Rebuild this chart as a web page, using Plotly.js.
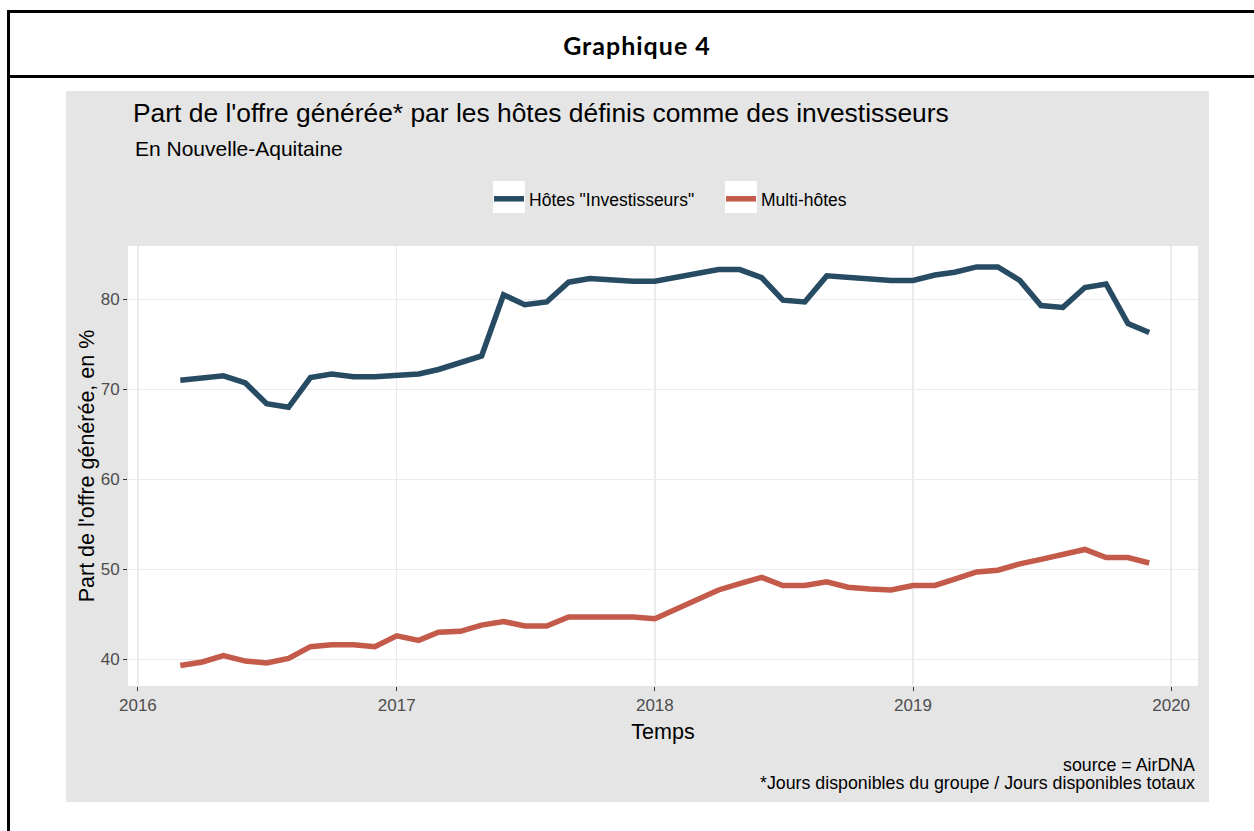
<!DOCTYPE html>
<html>
<head>
<meta charset="utf-8">
<script src="https://cdn.plot.ly/plotly-3.0.1.min.js"></script>
<style>
  html, body { margin:0; padding:0; background:#fff; width:1254px; height:831px; overflow:hidden; }
  #frame { position:absolute; left:7px; top:10px; width:1300px; height:900px; border-left:3px solid #000; border-top:3px solid #000; }
  #sep { position:absolute; left:7px; top:75px; width:1300px; height:3px; background:#000; }
  #hdr { position:absolute; left:0; top:30px; width:1274px; height:30px; line-height:30px; text-align:center; font-family:Lato, "Open Sans", sans-serif; font-weight:bold; font-size:25px; letter-spacing:1px; color:#000; }
  #chart { position:absolute; left:66px; top:91px; width:1143px; height:711px; }
</style>
</head>
<body>
<div id="frame"></div>
<div id="sep"></div>
<div id="hdr">Graphique 4</div>
<div id="chart"></div>
<script>
const months = [
  '2016-03-01','2016-04-01','2016-05-01','2016-06-01','2016-07-01','2016-08-01','2016-09-01','2016-10-01','2016-11-01','2016-12-01',
  '2017-01-01','2017-02-01','2017-03-01','2017-04-01','2017-05-01','2017-06-01','2017-07-01','2017-08-01','2017-09-01','2017-10-01','2017-11-01','2017-12-01',
  '2018-01-01','2018-02-01','2018-03-01','2018-04-01','2018-05-01','2018-06-01','2018-07-01','2018-08-01','2018-09-01','2018-10-01','2018-11-01','2018-12-01',
  '2019-01-01','2019-02-01','2019-03-01','2019-04-01','2019-05-01','2019-06-01','2019-07-01','2019-08-01','2019-09-01','2019-10-01','2019-11-01','2019-12-01'
];
const investisseurs = [
  71.0, 71.2, 71.5, 70.7, 68.4, 68.0, 71.3, 71.7, 71.4, 71.4,
  71.6, 71.7, 72.2, 73.0, 73.7, 80.5, 79.4, 79.7, 81.9, 82.3, 82.1, 82.0,
  82.0, 82.4, 82.8, 83.3, 83.3, 82.4, 79.9, 79.7, 82.6, 82.4, 82.3, 82.1,
  82.1, 82.7, 83.0, 83.6, 83.6, 82.1, 79.3, 79.1, 81.3, 81.7, 77.3, 76.3
];
const multiHotes = [
  39.3, 39.7, 40.4, 39.8, 39.6, 40.1, 41.4, 41.6, 41.6, 41.4,
  42.6, 42.1, 43.0, 43.1, 43.8, 44.2, 43.7, 43.7, 44.7, 44.7, 44.7, 44.7,
  44.5, 45.6, 46.7, 47.7, 48.4, 49.1, 48.2, 48.2, 48.6, 48.0, 47.8, 47.7,
  48.2, 48.2, 48.9, 49.7, 49.9, 50.6, 51.1, 51.7, 52.2, 51.3, 51.3, 50.7
];
const seriesNames = ['Hôtes "Investisseurs"', 'Multi-hôtes'];
const yTicks = [40, 50, 60, 70, 80];
const titleText = "Part de l'offre générée* par les hôtes définis comme des investisseurs";
const subtitleText = "En Nouvelle-Aquitaine";
const xTitle = "Temps";
const yTitle = "Part de l'offre générée, en %";
const captionLines = ["source = AirDNA", "*Jours disponibles du groupe / Jours disponibles totaux"];

const FONT = '"Liberation Sans", Arial, sans-serif';
const BLUE = '#274B63';
const RED = '#C45A4A';

const traces = [
  { x: months, y: investisseurs, name: seriesNames[0], type: 'scatter', mode: 'lines',
    line: { color: BLUE, width: 5.5 } },
  { x: months, y: multiHotes, name: seriesNames[1], type: 'scatter', mode: 'lines',
    line: { color: RED, width: 5.5 } }
];

const layout = {
  width: 1143, height: 711,
  margin: { l: 62, r: 11, t: 155, b: 116 },
  paper_bgcolor: '#E5E5E5',
  plot_bgcolor: '#FFFFFF',
  font: { family: FONT, color: '#000' },
  showlegend: true,
  title: { text: titleText, font: { family: FONT, size: 26.4, color: '#000' },
           xref: 'container', x: 0.0586, xanchor: 'left', yref: 'container', y: 0.969, yanchor: 'middle' },
  xaxis: {
    type: 'date', range: ['2015-12-18', '2020-02-08'],
    tick0: '2016-01-01', dtick: 'M12', tickformat: '%Y',
    showgrid: true, gridcolor: '#EBEBEB', gridwidth: 1.5, zeroline: false, showline: false,
    ticks: 'outside', ticklen: 4, tickcolor: '#333333', tickwidth: 1,
    tickfont: { family: FONT, size: 17, color: '#4D4D4D' },
    title: { text: xTitle, font: { family: FONT, size: 21.5, color: '#000' }, standoff: 9 },
    automargin: false, fixedrange: true
  },
  yaxis: {
    range: [37.03, 85.92], tickvals: yTicks,
    showgrid: true, gridcolor: '#EBEBEB', gridwidth: 1.5, zeroline: false, showline: false,
    ticks: 'outside', ticklen: 4, tickcolor: '#333333', tickwidth: 1,
    tickfont: { family: FONT, size: 17, color: '#4D4D4D' },
    title: { text: yTitle, font: { family: FONT, size: 21.5, color: '#000' }, standoff: 0 },
    automargin: false, fixedrange: true
  },
  legend: {
    orientation: 'h', x: 0.3374, xanchor: 'left', y: 1.107, yanchor: 'middle',
    bgcolor: 'rgba(0,0,0,0)', font: { family: FONT, size: 17.5, color: '#000' },
    entrywidth: 187, entrywidthmode: 'pixels', traceorder: 'normal'
  },
  shapes: [
    { type: 'rect', xref: 'paper', yref: 'paper', x0: 0.3411, x1: 0.3710, y0: 1.075, y1: 1.1477,
      fillcolor: '#FFFFFF', line: { width: 0 }, layer: 'above' },
    { type: 'rect', xref: 'paper', yref: 'paper', x0: 0.5579, x1: 0.5878, y0: 1.075, y1: 1.1477,
      fillcolor: '#FFFFFF', line: { width: 0 }, layer: 'above' }
  ],
  annotations: [
    { text: subtitleText, xref: 'paper', yref: 'paper', x: 0.0047, y: 1.2205, xanchor: 'left', yanchor: 'middle',
      showarrow: false, font: { family: FONT, size: 21, color: '#000' } },
    { text: captionLines[0], xref: 'paper', yref: 'paper', x: 0.9991, y: -0.1795, xanchor: 'right', yanchor: 'middle',
      showarrow: false, font: { family: FONT, size: 17.8, color: '#000' } },
    { text: captionLines[1], xref: 'paper', yref: 'paper', x: 0.9991, y: -0.2205, xanchor: 'right', yanchor: 'middle',
      showarrow: false, font: { family: FONT, size: 17.8, color: '#000' } }
  ]
};

Plotly.newPlot('chart', traces, layout, { displayModeBar: false, staticPlot: true });
</script>
</body>
</html>
